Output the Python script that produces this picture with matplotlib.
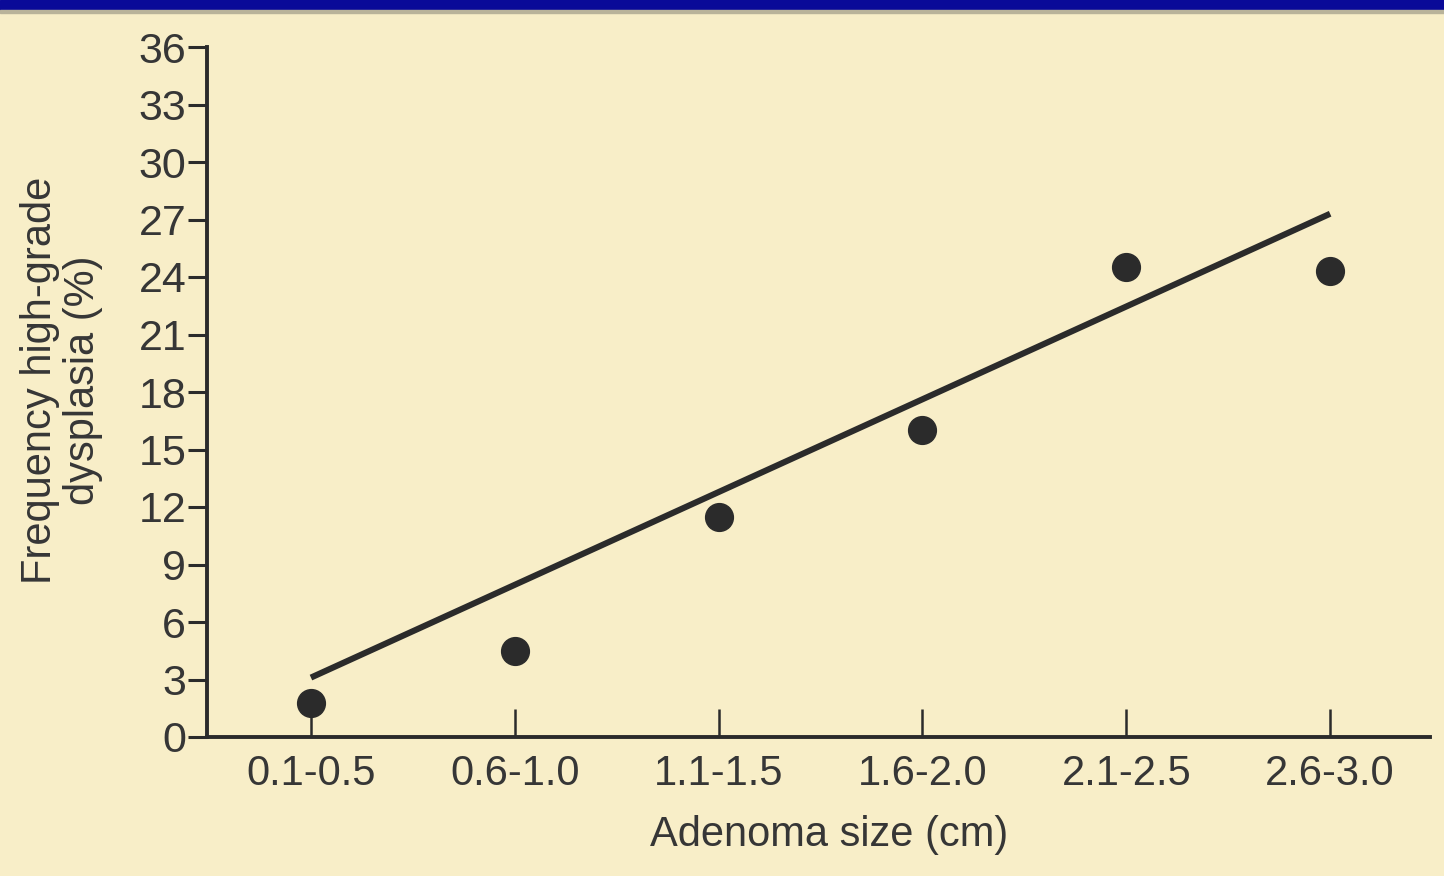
import matplotlib.pyplot as plt
from matplotlib.patches import Rectangle

# Data
sizes = ['0.1-0.5', '0.6-1.0', '1.1-1.5', '1.6-2.0', '2.1-2.5', '2.6-3.0']
freq_hgd = [1.8, 4.5, 11.5, 16.0, 24.5, 24.3]
# regression line at first and last size group
fit_values = [3.1, 27.3]
y_ticks = [0, 3, 6, 9, 12, 15, 18, 21, 24, 27, 30, 33, 36]

bg = '#f8eec8'
ink = '#2b2b2b'
txt = '#363636'

plt.rcParams['font.family'] = ['Liberation Sans', 'DejaVu Sans']

fig = plt.figure(figsize=(14.44, 8.76), dpi=100, facecolor=bg)

# dark blue band across the top
fig.patches.append(Rectangle((0, 1 - 10 / 876), 1, 10 / 876, transform=fig.transFigure,
                             color='#0a0a98', zorder=5))
fig.patches.append(Rectangle((0, 1 - 13 / 876), 1, 3 / 876, transform=fig.transFigure,
                             color='#b9b39a', zorder=5))

ax = fig.add_axes([207 / 1444, (876 - 737) / 876, 1223 / 1444, 690 / 876])
ax.set_facecolor(bg)

x = list(range(len(sizes)))
ax.plot([x[0], x[-1]], fit_values, color=ink, lw=4.4, solid_capstyle='butt', zorder=3)
ax.plot(x, freq_hgd, 'o', color=ink, markersize=20, zorder=4)

ax.set_xlim(-0.51, 5.49)
ax.set_ylim(0, 36)
ax.set_xticks(x)
ax.set_xticklabels(sizes)
ax.set_yticks(y_ticks)

for s in ['top', 'right']:
    ax.spines[s].set_visible(False)
for s in ['left', 'bottom']:
    ax.spines[s].set_linewidth(2.8)
    ax.spines[s].set_color(ink)

ax.tick_params(axis='x', direction='in', length=20, width=1.8, color=ink,
               pad=12, labelsize=30, labelcolor=txt)
ax.tick_params(axis='y', direction='out', length=14, width=2.2, color=ink,
               pad=1, labelsize=31, labelcolor=txt)

ax.set_xlabel('Adenoma size (cm)', fontsize=30, color=txt)
ax.xaxis.label.set_va('center')
ax.xaxis.set_label_coords(0.509, -0.142)

ax.set_ylabel('Frequency high-grade\ndysplasia (%)', fontsize=30, color=txt,
              linespacing=1.12)
ax.yaxis.label.set_va('center')
ax.yaxis.set_label_coords(-0.119, 0.517)

plt.savefig('out.png', dpi=100, facecolor=bg)
